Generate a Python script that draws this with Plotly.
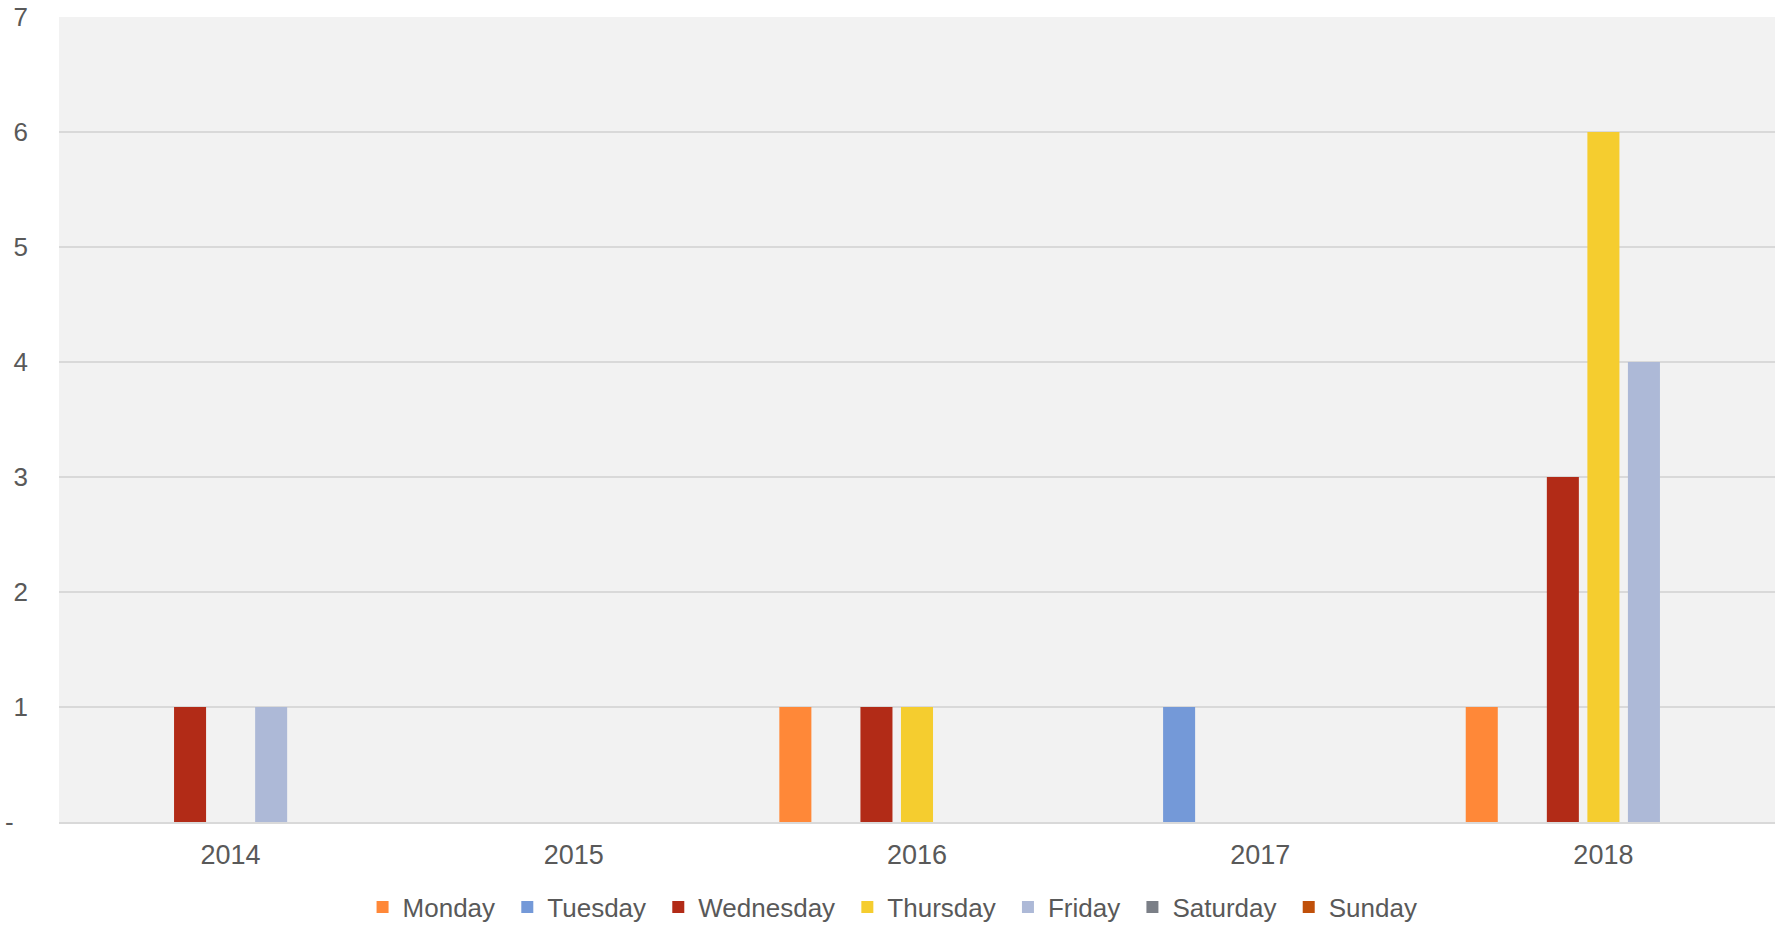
import plotly.graph_objects as go

years = ["2014", "2015", "2016", "2017", "2018"]
days = ["Monday", "Tuesday", "Wednesday", "Thursday", "Friday", "Saturday", "Sunday"]
monday = [0, 0, 1, 0, 1]
tuesday = [0, 0, 0, 1, 0]
wednesday = [1, 0, 1, 0, 3]
thursday = [0, 0, 1, 0, 6]
friday = [1, 0, 0, 0, 4]
saturday = [0, 0, 0, 0, 0]
sunday = [0, 0, 0, 0, 0]
series = [monday, tuesday, wednesday, thursday, friday, saturday, sunday]
colors = ["#FF8838", "#7499D8", "#B22B17", "#F5CD2F", "#ADB9D7", "#7B7F87", "#C0500A"]
ytick_vals = [0, 1, 2, 3, 4, 5, 6, 7]
ytick_text = ["-\u00a0\u00a0", "1", "2", "3", "4", "5", "6", "7"]

fig = go.Figure()
for name, vals, c in zip(days, series, colors):
    fig.add_trace(go.Bar(x=years, y=vals, name=name + "\u00a0",
                         marker=dict(color=c, line=dict(width=0))))

font = dict(family="Liberation Sans, Arial, sans-serif", size=26, color="#595959")
fig.update_layout(
    width=1779, height=927,
    margin=dict(l=59, r=4, t=17, b=105, autoexpand=False),
    paper_bgcolor="white", plot_bgcolor="#F2F2F2",
    barmode="group", bargap=0.173, bargroupgap=0.21,
    font=font,
    showlegend=True,
    legend=dict(orientation="h", x=0.4878, xanchor="center", y=-0.1056, yanchor="middle",
                font=font, itemwidth=30, tracegroupgap=0, traceorder="normal"),
    xaxis=dict(showgrid=False, showline=True, linecolor="#D9D9D9", linewidth=2,
               ticks="", tickfont=dict(family=font["family"], size=27, color="#595959"),
               ticklabelstandoff=8, automargin=False),
    yaxis=dict(range=[0, 7], tickvals=ytick_vals, ticktext=ytick_text, showgrid=True,
               gridcolor="#D9D9D9", gridwidth=2, zeroline=False, showline=False,
               ticks="", tickfont=font, ticklabelstandoff=30, automargin=False,
               ticklabeloverflow="allow"),
)
fig.write_html("out.html", post_script="document.body.style.margin='0';",
               config={"displayModeBar": False})
